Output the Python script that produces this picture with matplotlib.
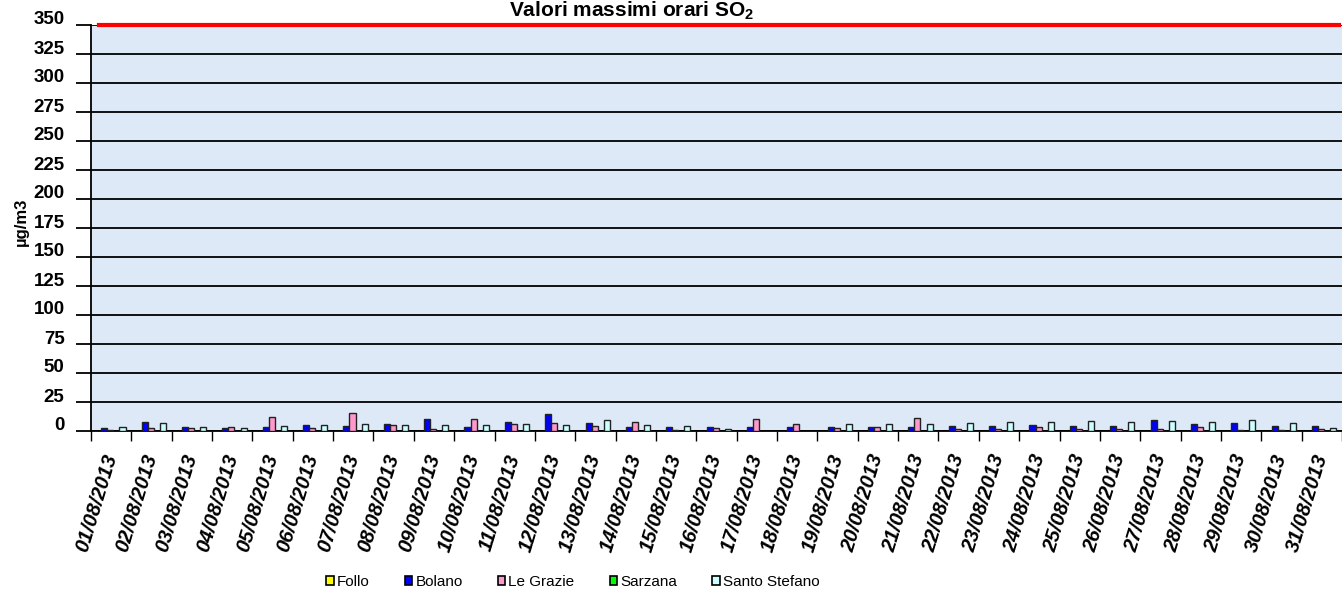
import numpy as np
import matplotlib
matplotlib.use("Agg")
import matplotlib.pyplot as plt
from matplotlib.transforms import ScaledTranslation
from matplotlib.patches import Patch

plt.rcParams['font.family'] = ['Liberation Sans', 'DejaVu Sans']
plt.rcParams['mathtext.fontset'] = 'custom'
plt.rcParams['mathtext.rm'] = 'Liberation Sans'
plt.rcParams['mathtext.bf'] = 'Liberation Sans:bold'

days = ["%02d/08/2013" % d for d in range(1, 32)]
stations = ["Follo", "Bolano", "Le Grazie", "Sarzana", "Santo Stefano"]
colors = ["#FFFF00", "#0000FF", "#FF99CC", "#00FF00", "#CCFFFF"]

nan = np.nan
follo = [nan] * 31
bolano = [2.3, 8, 3.5, 2.6, 3.2, 4.9, 4.3, 5.8, 10.7, 3.5, 7.5, 15, 6.9, 3.7, 3.2, 3.5,
          3.7, 3.7, 3.5, 3.5, 3.5, 4, 4.3, 5.2, 4.6, 4.6, 9.5, 5.8, 6.6, 4.3, 4]
le_grazie = [1, 2.3, 2.6, 3.2, 12.4, 2.9, 15.3, 5.5, 1.7, 10.4, 5.8, 6.6, 4.3, 8, 0.9, 2.3,
             10, 6.3, 2.3, 3.2, 11.5, 1.7, 2, 3.5, 2, 1.5, 1.4, 3.2, 1.2, 0.9, 1.4]
sarzana = [nan] * 31
santo_stefano = [3.5, 6.6, 3.5, 2.9, 4.3, 4.9, 5.8, 5.2, 5.5, 5.5, 5.8, 5.5, 9.8, 5.5, 4.3, 1.7,
                 nan, nan, 6, 6, 5.8, 6.6, 8, 7.8, 8.4, 7.8, 9, 8, 9.8, 7.2, 2.3]
series = [follo, bolano, le_grazie, sarzana, santo_stefano]
limit = 350

fig = plt.figure(figsize=(13.42, 5.97), dpi=100)
ax = fig.add_axes([91 / 1342, 1 - 431 / 597, 1 - 91 / 1342, 406 / 597])
ax.set_facecolor("#dde9f7")

x = np.arange(len(days))
w = 0.15
for i, (vals, c) in enumerate(zip(series, colors)):
    ax.bar(x + (i - 2) * w - 0.02, vals, width=w, color=c, edgecolor="#222222",
           linewidth=1.0, zorder=3)

ax.axhline(limit, xmin=0.006, xmax=0.998, color="red", lw=3, zorder=4, clip_on=False)

ax.set_xlim(-0.5, 30.5)
ax.set_ylim(0, 350)
ax.set_yticks(np.arange(0, 351, 25))
ax.yaxis.grid(True, color="black", lw=1.3, zorder=1)
ax.set_axisbelow(True)
for s in ["top", "right"]:
    ax.spines[s].set_visible(False)
ax.spines["left"].set_linewidth(1.3)
ax.spines["bottom"].set_linewidth(1.3)

ax.tick_params(axis="y", length=11, width=1.3, pad=8, labelsize=13.5)
for lab in ax.get_yticklabels():
    lab.set_fontweight("bold")
    lab.set_transform(lab.get_transform() + ScaledTranslation(0, 7 / 100, fig.dpi_scale_trans))

ax.set_xticks(np.arange(-0.5, 31, 1))
ax.set_xticklabels([])
ax.tick_params(axis="x", which="major", length=7, width=1.0)
ax.set_xticks(x, minor=True)
ax.set_xticklabels(days, minor=True, rotation=73, ha="right", va="center",
                   rotation_mode="anchor", fontsize=14.5, fontweight="bold", fontstyle="italic")
ax.tick_params(axis="x", which="minor", length=0, pad=17)

fig.text(21 / 1342, 1 - 222 / 597, "µg/m3", rotation=90, ha="center", va="center",
         fontsize=12, fontweight="bold")
fig.text(632 / 1342, 1 - 16 / 597, r"Valori massimi orari SO$_\mathbf{2}$", ha="center",
         va="baseline", fontsize=15, fontweight="bold")

handles = [Patch(facecolor=c, edgecolor="black", lw=1.2) for c in colors]
fig.legend(handles, stations, loc="center left", bbox_to_anchor=(326 / 1342, 1 - 582 / 597),
           ncol=5, frameon=False, fontsize=11, borderpad=0, borderaxespad=0,
           handlelength=0.5, handleheight=0.5, handletextpad=0.2, columnspacing=2.3)

fig.savefig("out.png", dpi=100)
